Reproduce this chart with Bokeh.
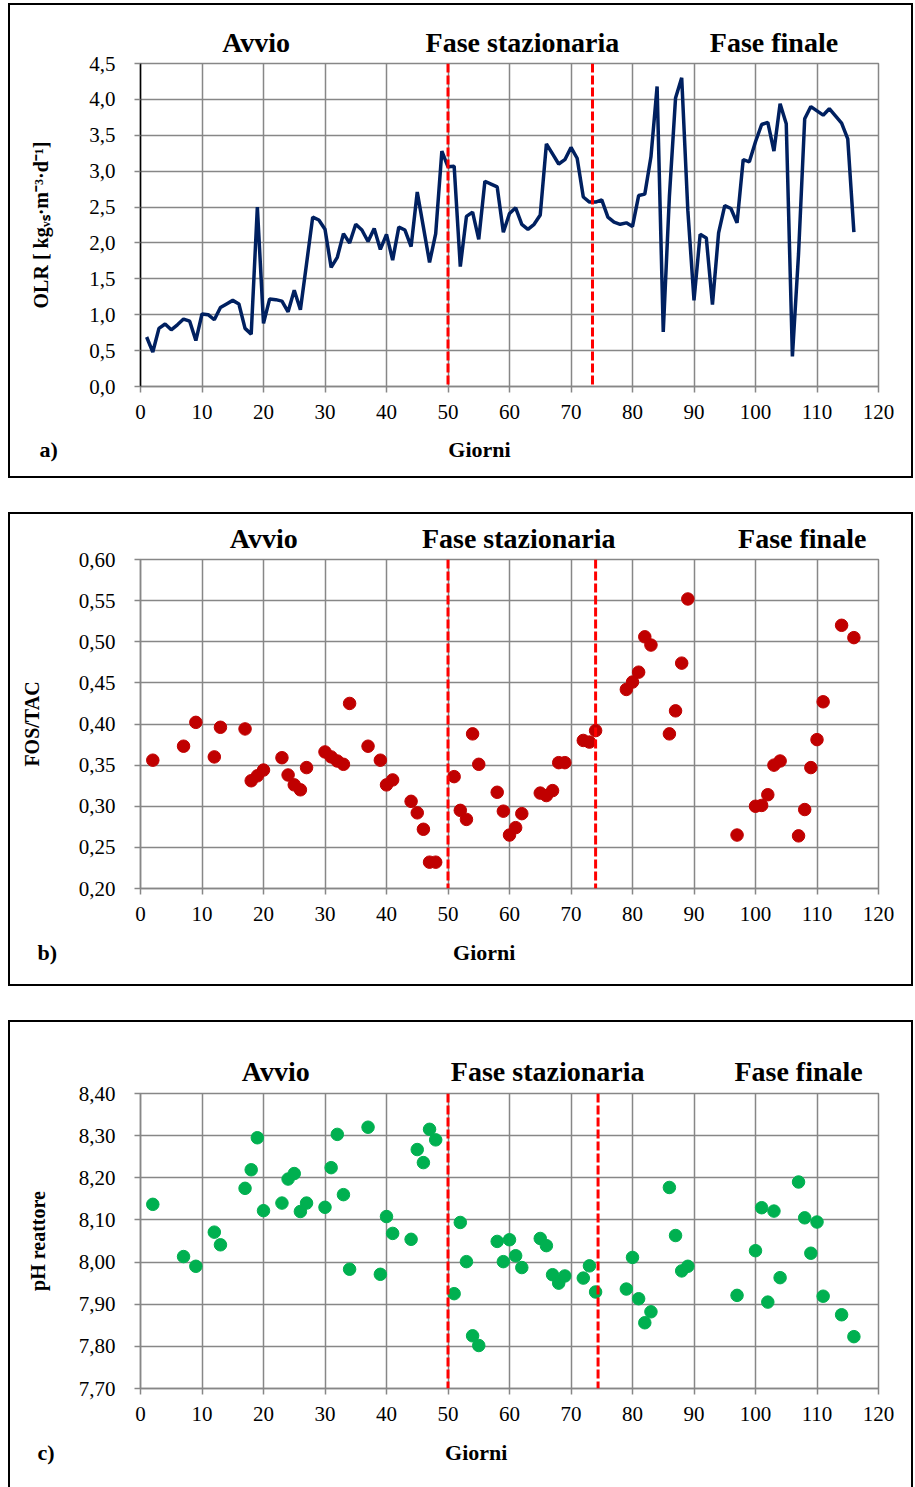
from bokeh.plotting import figure
from bokeh.models import (Range1d, FixedTicker, CustomJSTickFormatter, Span,
                          LinearAxis, Title)
from bokeh.layouts import column
from bokeh.embed import file_html
from bokeh.resources import INLINE

# ---------------- data ----------------
x_ticks = [0, 10, 20, 30, 40, 50, 60, 70, 80, 90, 100, 110, 120]
phase_labels = ["Avvio", "Fase stazionaria", "Fase finale"]
x_title = "Giorni"

olr_days = list(range(1, 117))
olr_values = [
    0.69, 0.48, 0.81, 0.87, 0.79, 0.86, 0.94, 0.91, 0.64, 1.01,
    1.00, 0.93, 1.10, 1.15, 1.20, 1.15, 0.81, 0.73, 2.50, 0.88,
    1.22, 1.21, 1.19, 1.04, 1.34, 1.07, 1.71, 2.36, 2.32, 2.19,
    1.66, 1.80, 2.13, 2.00, 2.26, 2.18, 2.02, 2.20, 1.91, 2.12,
    1.76, 2.22, 2.18, 1.95, 2.71, 2.22, 1.73, 2.13, 3.28, 3.06,
    3.07, 1.67, 2.37, 2.43, 2.05, 2.86, 2.82, 2.78, 2.15, 2.41,
    2.49, 2.26, 2.19, 2.26, 2.39, 3.38, 3.24, 3.10, 3.16, 3.33,
    3.18, 2.64, 2.57, 2.57, 2.60, 2.36, 2.29, 2.26, 2.28, 2.23,
    2.66, 2.68, 3.20, 4.18, 0.76, 2.65, 4.02, 4.30, 2.45, 1.20,
    2.12, 2.07, 1.14, 2.14, 2.52, 2.48, 2.28, 3.16, 3.13, 3.41,
    3.65, 3.68, 3.28, 3.94, 3.66, 0.42, 1.85, 3.73, 3.90, 3.84,
    3.78, 3.87, 3.77, 3.67, 3.45, 2.15,
]
olr_ticks = [0.0, 0.5, 1.0, 1.5, 2.0, 2.5, 3.0, 3.5, 4.0, 4.5]
olr_boundaries = [50, 73.5]

fos_days = [2, 7, 9, 12, 13, 17, 18, 19, 20, 23, 24, 25, 26, 27, 30, 31, 32, 33, 34,
            37, 39, 40, 41, 44, 45, 46, 47, 48, 51, 52, 53, 54, 55, 58, 59, 60, 61,
            62, 65, 66, 67, 68, 69, 72, 73, 74, 79, 80, 81, 82, 83, 86, 87, 88, 89,
            97, 100, 101, 102, 103, 104, 107, 108, 109, 110, 111, 114, 116]
fos_values = [0.356, 0.373, 0.402, 0.360, 0.396, 0.394, 0.331, 0.337, 0.344, 0.359,
              0.338, 0.326, 0.320, 0.347, 0.366, 0.360, 0.355, 0.351, 0.425, 0.373,
              0.356, 0.326, 0.332, 0.306, 0.292, 0.272, 0.232, 0.232, 0.336, 0.295,
              0.284, 0.388, 0.351, 0.317, 0.294, 0.265, 0.274, 0.291, 0.316, 0.313,
              0.319, 0.353, 0.353, 0.380, 0.378, 0.392, 0.442, 0.451, 0.463, 0.506,
              0.496, 0.388, 0.416, 0.474, 0.552, 0.265, 0.300, 0.301, 0.314, 0.350,
              0.355, 0.264, 0.296, 0.347, 0.381, 0.427, 0.520, 0.505]
fos_ticks = [0.20, 0.25, 0.30, 0.35, 0.40, 0.45, 0.50, 0.55, 0.60]
fos_boundaries = [50, 74]

ph_days = [2, 7, 9, 12, 13, 17, 18, 19, 20, 23, 24, 25, 26, 27, 30, 31, 32, 33, 34,
           37, 39, 40, 41, 44, 45, 46, 47, 48, 51, 52, 53, 54, 55, 58, 59, 60, 61,
           62, 65, 66, 67, 68, 69, 72, 73, 74, 79, 80, 81, 82, 83, 86, 87, 88, 89,
           97, 100, 101, 102, 103, 104, 107, 108, 109, 110, 111, 114, 116]
ph_values = [8.137, 8.013, 7.990, 8.071, 8.041, 8.175, 8.219, 8.295, 8.122, 8.140,
             8.197, 8.210, 8.120, 8.140, 8.130, 8.224, 8.303, 8.160, 7.983, 8.320,
             7.971, 8.108, 8.068, 8.054, 8.267, 8.236, 8.315, 8.290, 7.925, 8.094,
             8.001, 7.825, 7.802, 8.049, 8.001, 8.053, 8.015, 7.987, 8.056, 8.039,
             7.970, 7.950, 7.967, 7.962, 7.991, 7.929, 7.936, 8.011, 7.913, 7.856,
             7.882, 8.177, 8.063, 7.979, 7.990, 7.921, 8.027, 8.129, 7.905, 8.121,
             7.963, 8.190, 8.105, 8.021, 8.095, 7.919, 7.875, 7.823]
ph_ticks = [7.70, 7.80, 7.90, 8.00, 8.10, 8.20, 8.30, 8.40]
ph_boundaries = [50, 74.4]

# ---------------- style ----------------
GRID = "#878787"
SERIF = "Liberation Serif"
PANEL_W = 905
NBSP = "\u00a0"


def make_panel(height, left, right, top, bottom, yr, yticks, decimals,
               ylabel, label_standoff, yaxis_color, box_style):
    p = figure(width=PANEL_W, height=height,
               x_range=Range1d(0, 120), y_range=Range1d(yr[0], yr[1]),
               output_backend="svg", toolbar_location=None,
               min_border=0, min_border_left=left, min_border_right=right,
               min_border_top=top, min_border_bottom=bottom,
               background_fill_color="white", border_fill_color="white",
               outline_line_color=GRID, outline_line_width=1.5)
    p.styles = box_style
    p.xaxis.ticker = FixedTicker(ticks=x_ticks)
    p.yaxis.ticker = FixedTicker(ticks=yticks)
    p.yaxis.formatter = CustomJSTickFormatter(
        code="return tick.toFixed(%d).replace('.', ',');" % decimals)
    for ax in (p.xaxis[0], p.yaxis[0]):
        ax.major_label_text_font = SERIF
        ax.major_label_text_font_size = "21px"
        ax.major_label_text_color = "black"
        ax.minor_tick_line_color = None
        ax.major_tick_in = 0
        ax.major_tick_out = 6
        ax.major_tick_line_color = GRID
        ax.major_tick_line_width = 1.5
        ax.axis_line_width = 1.5
    p.xaxis.major_label_standoff = 12
    p.yaxis.major_label_standoff = 19
    p.xaxis.axis_line_color = GRID
    p.yaxis.axis_line_color = yaxis_color
    p.yaxis.axis_label = ylabel
    p.yaxis.axis_label_text_font = SERIF
    p.yaxis.axis_label_text_font_style = "bold"
    p.yaxis.axis_label_text_font_size = "20px"
    p.yaxis.axis_label_text_color = "black"
    p.yaxis.axis_label_standoff = label_standoff
    p.grid.grid_line_color = GRID
    p.grid.grid_line_width = 1.5
    return p


def phase_axis(ticks, standoff):
    return LinearAxis(ticker=FixedTicker(ticks=ticks),
                      formatter=CustomJSTickFormatter(args=dict(names=phase_labels),
                                                      code="return names[index];"),
                      axis_line_color=None, major_tick_line_color=None,
                      minor_tick_line_color=None,
                      major_label_text_font=SERIF,
                      major_label_text_font_style="bold",
                      major_label_text_font_size="28px",
                      major_label_text_color="black",
                      major_label_standoff=standoff)


def add_annotations(p, boundaries, phase_x, phase_standoff,
                    letter, gap, offset, standoff):
    for b in boundaries:
        p.add_layout(Span(location=b, dimension="height", line_color="#FF0000",
                          line_width=3, line_dash="9 3"))
    p.add_layout(phase_axis(phase_x, phase_standoff), "above")
    # panel letter and x-axis title share one row under the tick labels
    p.add_layout(Title(text=letter + NBSP * gap + x_title, align="left",
                       offset=offset, standoff=standoff,
                       text_font=SERIF, text_font_style="bold",
                       text_font_size="22px", text_color="black"), "below")


BOX = {"border": "2px solid black"}
BOX_OPEN = {"border-top": "2px solid black", "border-left": "2px solid black",
            "border-right": "2px solid black"}

# ---- panel a ----
pa = make_panel(475, 125, 34, 58, 94, (0, 4.5), olr_ticks, 1,
                "OLR [ kg\u1d65\u209b\u00b7m\u207b\u00b3\u00b7d\u207b\u00b9]", 34, "black", BOX)
pa.line(olr_days, olr_values, line_color="#002060", line_width=3.5)
add_annotations(pa, olr_boundaries, [18.8, 62.1, 103.0], 0, "a)", 71, -101, 27)

# ---- panel b ----
pb = make_panel(474, 128, 37, 45, 100, (0.20, 0.60), fos_ticks, 2,
                "FOS/TAC", 33, GRID, BOX)
pb.scatter(fos_days, fos_values, size=12.5, color="#C00000")
add_annotations(pb, fos_boundaries, [20.05, 61.5, 107.6], 0, "b)", 72, -103, 28)

# ---- panel c ----
pc = make_panel(467, 130, 33, 71, 101, (7.70, 8.40), ph_ticks, 2,
                "pH reattore", 27, GRID, BOX_OPEN)
pc.scatter(ph_days, ph_values, size=12.5, color="#00B050")
add_annotations(pc, ph_boundaries, [22.0, 66.2, 107.0], 1, "c)", 71, -103, 29)

layout = column(pa, pb, pc, spacing=34, margin=(3, 0, 0, 8))

with open("out.html", "w") as f:
    f.write(file_html(layout, INLINE))
